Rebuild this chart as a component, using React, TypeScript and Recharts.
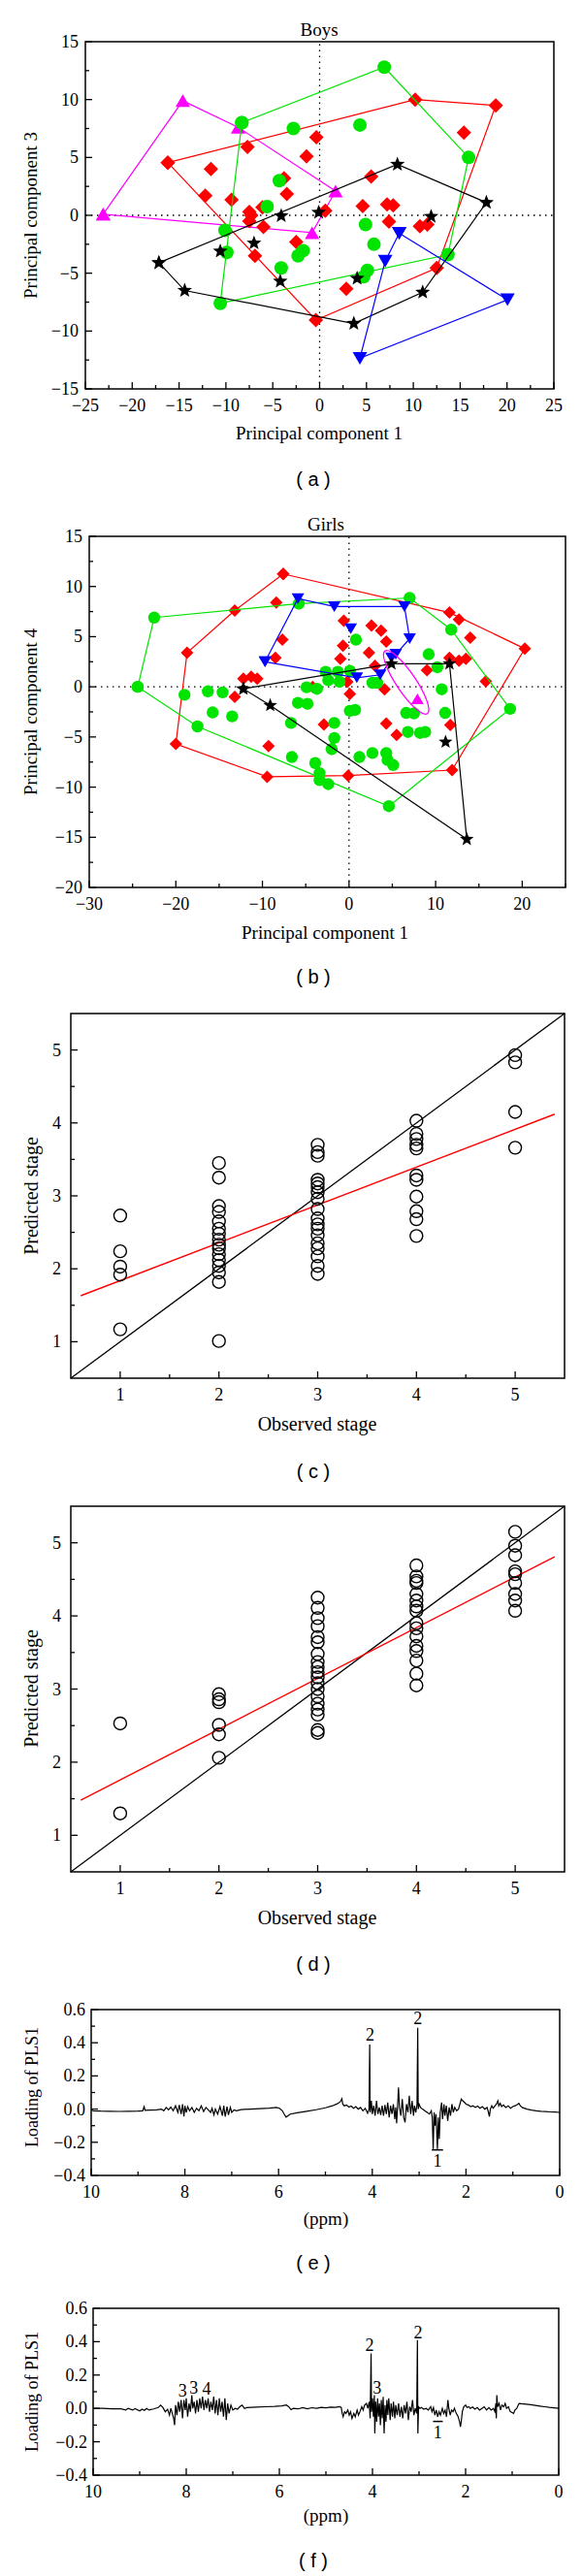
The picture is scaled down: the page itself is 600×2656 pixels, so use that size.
import React from 'react';
import { ScatterChart, Scatter, XAxis, YAxis, ReferenceLine, ReferenceArea } from 'recharts';

// ---------------- DATA ----------------
// Panel (a) Boys: PC1 vs PC3
const A_MAGENTA_HULL = [[-23.1, 0.1], [-14.6, 9.9], [-8.7, 7.6], [1.7, 2.1], [-0.8, -1.5]];
const A_RED_HULL = [[-16.2, 4.55], [10.2, 10.0], [18.8, 9.5], [12.5, -4.55], [-0.4, -9.05]];
const A_RED_IN = [[15.4, 7.15], [-0.35, 6.75], [-7.7, 5.9], [-1.4, 5.1], [-11.6, 4.0], [-3.8, 3.2], [5.5, 3.35], [-12.2, 1.7], [-9.4, 1.35], [-3.5, 1.85], [-7.5, 0.3], [-7.3, 0.0], [-7.5, -0.5], [-6.1, 0.7], [-6.0, -1.0], [0.6, 0.4], [4.6, 0.8], [7.2, 0.95], [7.85, 0.85], [7.4, -0.55], [10.7, -0.95], [11.5, -0.8], [-2.5, -2.3], [-6.9, -3.5], [2.85, -6.35]];
const A_GREEN_HULL = [[-8.3, 8.0], [6.9, 12.8], [15.9, 5.0], [13.7, -3.4], [-10.6, -7.6]];
const A_GREEN_IN = [[4.3, 7.8], [-2.8, 7.5], [-4.3, 3.0], [-5.6, 0.75], [-10.1, -1.3], [-9.9, -3.2], [-4.1, -4.55], [-1.75, -3.05], [-2.3, -3.5], [4.9, -0.8], [5.8, -2.5], [5.1, -4.75], [4.7, -5.3]];
const A_BLACK_HULL = [[-17.15, -4.1], [8.3, 4.4], [17.8, 1.1], [11.0, -6.65], [3.65, -9.35], [-14.4, -6.5]];
const A_BLACK_IN = [[-4.1, -0.05], [-0.1, 0.25], [11.9, -0.1], [-10.6, -3.1], [-7.0, -2.4], [-4.2, -5.7], [4.0, -5.45]];
const A_BLUE_HULL = [[8.5, -1.55], [20.05, -7.3], [4.3, -12.35], [7.0, -3.95]];

// Panel (b) Girls: PC1 vs PC4
const B_GREEN_HULL = [[-24.4, 0.0], [-22.5, 6.9], [-5.8, 8.3], [7.0, 8.86], [11.8, 5.7], [18.6, -2.2], [4.6, -11.9], [-17.5, -3.95]];
const B_GREEN_IN = [[-19.0, -0.8], [-16.3, -0.45], [-14.6, -0.55], [-15.75, -2.55], [-13.5, -2.95], [-6.7, -3.6], [-5.9, -1.6], [-4.8, -1.7], [-4.9, -0.05], [-3.7, -0.2], [-2.7, 1.5], [-2.4, 0.65], [-1.3, 1.5], [-1.1, 0.5], [0.1, 1.6], [0.8, 4.7], [0.1, -2.4], [0.7, -2.3], [-1.7, -3.6], [-1.7, -5.1], [-2.0, -6.2], [-6.6, -7.0], [-3.9, -7.6], [-3.4, -8.6], [-3.4, -9.3], [-2.4, -9.7], [1.2, -7.0], [2.7, -6.6], [4.3, -6.6], [4.45, -7.3], [5.1, -7.8], [2.7, 0.4], [3.25, 0.4], [6.6, -2.6], [7.5, -2.65], [6.8, -4.5], [8.2, -4.6], [8.8, -4.5], [9.2, 3.25], [10.2, 1.95], [10.7, -0.25], [11.1, -2.6]];
const B_RED_HULL = [[-7.6, 11.25], [11.6, 7.4], [20.3, 3.8], [11.9, -8.3], [-0.1, -8.85], [-9.45, -8.97], [-20.0, -5.7], [-18.7, 3.4], [-13.2, 7.6]];
const B_RED_IN = [[-8.4, 8.4], [-7.7, 4.7], [-8.5, 2.9], [-0.6, 6.6], [-0.7, 4.1], [-1.0, 2.8], [-0.2, 0.5], [0.1, -0.7], [2.6, 6.1], [3.7, 5.6], [4.3, 4.5], [2.3, 3.4], [3.0, 2.1], [4.1, -0.25], [9.0, 1.65], [11.6, 2.9], [12.7, 2.6], [13.5, 2.8], [14.0, 4.9], [12.7, 6.7], [15.8, 0.55], [11.7, -3.8], [4.3, -3.65], [5.5, -4.8], [-2.9, -3.75], [-2.0, -6.2], [-9.3, -5.9], [-13.2, -1.0], [-12.2, 0.8], [-11.3, 1.0], [-10.6, 0.8], [-4.2, 0.0]];
const B_BLUE_HULL = [[-9.7, 2.5], [-5.9, 8.8], [-1.7, 8.0], [6.4, 8.0], [7.0, 4.8], [5.4, 3.25], [3.6, 1.2], [0.9, 0.9]];
const B_BLUE_IN = [[0.2, 5.8], [4.9, 2.9]];
const B_BLACK_HULL = [[-12.2, -0.2], [4.9, 2.3], [11.6, 2.3], [13.6, -15.2], [-9.1, -1.85]];
const B_BLACK_IN = [[11.15, -5.5]];
const B_MAGENTA = [[7.9, -1.2]];
const B_ELLIPSE_CENTER = [[6.6, 0.45]];

// Panel (c): observed vs predicted stage
const C_S1 = [2.73, 2.24, 2.03, 1.92, 1.17];
const C_S2 = [3.45, 3.25, 2.86, 2.78, 2.65, 2.55, 2.48, 2.40, 2.33, 2.28, 2.20, 2.12, 2.04, 1.95, 1.82, 1.01];
const C_S3 = [3.70, 3.60, 3.55, 3.22, 3.17, 3.12, 3.05, 2.96, 2.82, 2.69, 2.61, 2.55, 2.46, 2.35, 2.28, 2.17, 2.04, 1.93];
const C_S4 = [4.03, 3.85, 3.78, 3.70, 3.65, 3.28, 3.22, 2.99, 2.79, 2.68, 2.45];
const C_S5 = [4.93, 4.83, 4.15, 3.66];
const C_FIT = [[0.6, 1.63], [5.4, 4.12]];

// Panel (d)
const D_S1 = [2.53, 1.30];
const D_S2 = [2.93, 2.86, 2.82, 2.51, 2.38, 2.06];
const D_S3 = [4.25, 4.11, 3.97, 3.86, 3.71, 3.64, 3.48, 3.37, 3.30, 3.23, 3.16, 3.08, 3.00, 2.90, 2.80, 2.72, 2.65, 2.44, 2.40];
const D_S4 = [4.69, 4.54, 4.48, 4.45, 4.30, 4.21, 4.13, 4.07, 3.90, 3.83, 3.72, 3.59, 3.52, 3.39, 3.21, 3.05];
const D_S5 = [5.15, 4.96, 4.83, 4.61, 4.57, 4.45, 4.30, 4.21, 4.07];
const D_FIT = [[0.6, 1.48], [5.4, 4.81]];
const IDENTITY = [[0.5, 0.5], [5.5, 5.5]];

// Panel (e) loading spectrum [ppm, loading]
const E_SPEC = [[10.0, -0.005], [9.95, -0.01], [9.8, -0.012], [9.6, -0.013], [9.4, -0.014], [9.2, -0.013], [9.0, -0.012], [8.9, -0.01], [8.87, 0.015], [8.85, -0.008], [8.75, -0.006], [8.6, -0.004], [8.5, 0.0], [8.45, -0.01], [8.4, 0.01], [8.35, -0.005], [8.3, 0.012], [8.25, -0.01], [8.2, 0.02], [8.15, -0.02], [8.12, 0.025], [8.08, -0.03], [8.05, 0.03], [8.02, -0.045], [8.0, 0.02], [7.97, -0.02], [7.94, 0.015], [7.9, -0.01], [7.85, 0.01], [7.8, -0.02], [7.75, 0.005], [7.7, -0.01], [7.65, 0.02], [7.6, -0.015], [7.55, 0.01], [7.5, -0.005], [7.45, -0.02], [7.42, 0.005], [7.38, -0.035], [7.35, 0.0], [7.3, -0.03], [7.25, 0.015], [7.2, -0.04], [7.17, 0.02], [7.14, -0.045], [7.1, 0.015], [7.07, -0.035], [7.03, 0.01], [7.0, -0.02], [6.95, -0.005], [6.9, -0.01], [6.8, -0.003], [6.6, 0.0], [6.4, 0.003], [6.2, 0.006], [6.05, 0.01], [5.98, 0.005], [5.92, -0.01], [5.88, -0.03], [5.84, -0.048], [5.8, -0.04], [5.75, -0.03], [5.6, -0.022], [5.4, -0.013], [5.2, -0.004], [5.0, 0.008], [4.85, 0.02], [4.75, 0.032], [4.68, 0.045], [4.65, 0.062], [4.63, 0.03], [4.6, 0.02], [4.55, 0.025], [4.5, 0.012], [4.45, 0.018], [4.4, 0.005], [4.35, 0.015], [4.3, 0.0], [4.25, 0.01], [4.2, -0.01], [4.15, 0.005], [4.1, -0.025], [4.07, 0.0], [4.055, 0.39], [4.045, -0.02], [4.02, 0.05], [4.0, -0.03], [3.97, 0.02], [3.94, -0.04], [3.91, 0.05], [3.88, -0.03], [3.85, 0.01], [3.82, -0.035], [3.79, 0.02], [3.76, -0.04], [3.73, 0.025], [3.7, -0.03], [3.67, 0.04], [3.64, -0.05], [3.61, 0.02], [3.58, -0.03], [3.55, 0.03], [3.52, -0.06], [3.5, 0.01], [3.48, -0.085], [3.46, 0.02], [3.44, 0.13], [3.42, 0.01], [3.39, -0.04], [3.36, 0.06], [3.33, -0.05], [3.3, -0.08], [3.27, 0.03], [3.24, -0.02], [3.21, 0.08], [3.18, -0.03], [3.15, 0.05], [3.12, -0.04], [3.1, 0.02], [3.07, -0.02], [3.045, 0.03], [3.03, 0.49], [3.02, 0.0], [3.0, 0.03], [2.97, 0.01], [2.93, 0.0], [2.88, -0.01], [2.83, -0.02], [2.78, -0.03], [2.74, -0.01], [2.72, -0.05], [2.7, -0.24], [2.68, -0.02], [2.66, -0.1], [2.64, -0.03], [2.61, -0.24], [2.59, -0.05], [2.57, -0.18], [2.55, -0.02], [2.52, 0.04], [2.5, -0.06], [2.47, 0.03], [2.45, -0.04], [2.42, 0.02], [2.39, -0.07], [2.36, 0.01], [2.33, -0.04], [2.3, 0.03], [2.27, -0.02], [2.24, 0.01], [2.2, -0.01], [2.16, 0.0], [2.12, 0.04], [2.1, 0.06], [2.07, 0.05], [2.03, 0.04], [2.0, 0.03], [1.95, 0.025], [1.9, 0.015], [1.85, 0.02], [1.8, 0.01], [1.75, 0.018], [1.7, 0.005], [1.65, 0.015], [1.6, 0.0], [1.55, 0.01], [1.52, -0.02], [1.5, -0.045], [1.48, 0.0], [1.45, 0.02], [1.42, 0.005], [1.38, 0.02], [1.35, 0.03], [1.32, 0.05], [1.3, 0.02], [1.27, 0.035], [1.24, 0.015], [1.2, 0.025], [1.15, 0.01], [1.1, 0.02], [1.05, 0.005], [1.0, 0.015], [0.95, 0.02], [0.9, 0.028], [0.87, 0.035], [0.84, 0.02], [0.8, 0.01], [0.7, 0.0], [0.6, -0.006], [0.5, -0.01], [0.4, -0.013], [0.3, -0.015], [0.2, -0.017], [0.1, -0.018], [0.0, -0.02]];
const E_LABELS = [{ x: 4.05, y: 0.45, t: '2' }, { x: 3.03, y: 0.545, t: '2' }, { x: 2.61, y: -0.31, t: '1' }];
const E_BAR = [[2.73, -0.246], [2.49, -0.246]];

// Panel (f)
const F_SPEC = [[10.0, 0.0], [9.8, 0.0], [9.6, -0.002], [9.4, -0.003], [9.3, -0.01], [9.25, 0.0], [9.15, -0.01], [9.1, -0.002], [9.0, -0.015], [8.95, -0.005], [8.9, -0.012], [8.85, 0.0], [8.8, -0.01], [8.7, -0.003], [8.6, 0.005], [8.55, 0.02], [8.5, 0.005], [8.45, -0.02], [8.4, -0.005], [8.36, -0.04], [8.33, 0.0], [8.3, -0.03], [8.27, -0.06], [8.25, -0.1], [8.23, 0.02], [8.2, -0.04], [8.17, 0.04], [8.14, -0.02], [8.11, 0.05], [8.08, -0.06], [8.05, 0.05], [8.02, -0.01], [8.0, 0.06], [7.97, -0.05], [7.94, 0.03], [7.91, -0.02], [7.88, 0.08], [7.86, 0.0], [7.83, 0.04], [7.8, -0.03], [7.77, 0.05], [7.74, -0.02], [7.71, 0.06], [7.68, 0.0], [7.65, 0.07], [7.62, -0.01], [7.59, 0.05], [7.56, 0.0], [7.53, 0.06], [7.5, -0.02], [7.47, 0.04], [7.44, -0.01], [7.41, 0.07], [7.38, -0.03], [7.35, 0.05], [7.32, -0.04], [7.29, 0.06], [7.26, -0.02], [7.23, 0.04], [7.2, -0.05], [7.17, 0.06], [7.14, -0.07], [7.11, 0.03], [7.08, -0.03], [7.04, 0.02], [7.0, -0.01], [6.95, 0.0], [6.9, -0.005], [6.85, 0.01], [6.8, 0.02], [6.75, 0.0], [6.7, 0.005], [6.5, 0.008], [6.3, 0.01], [6.1, 0.012], [5.95, 0.015], [5.85, 0.02], [5.8, 0.01], [5.75, -0.008], [5.7, 0.0], [5.6, -0.003], [5.5, 0.005], [5.4, -0.002], [5.3, 0.004], [5.2, 0.0], [5.1, 0.006], [5.0, 0.003], [4.9, 0.008], [4.8, 0.006], [4.7, 0.01], [4.67, 0.005], [4.65, -0.03], [4.63, -0.05], [4.6, -0.02], [4.57, -0.03], [4.53, -0.01], [4.5, -0.04], [4.47, -0.02], [4.44, -0.06], [4.4, -0.03], [4.37, -0.05], [4.33, -0.01], [4.3, -0.04], [4.27, -0.02], [4.23, 0.01], [4.2, -0.01], [4.17, 0.02], [4.13, 0.03], [4.1, 0.0], [4.07, 0.04], [4.05, -0.06], [4.03, 0.33], [4.02, -0.02], [4.0, 0.06], [3.98, -0.05], [3.96, 0.08], [3.95, -0.15], [3.93, 0.04], [3.91, -0.08], [3.89, 0.06], [3.87, -0.05], [3.85, 0.03], [3.83, -0.1], [3.81, 0.05], [3.79, -0.06], [3.77, 0.07], [3.75, -0.15], [3.73, 0.02], [3.71, -0.08], [3.69, 0.05], [3.67, -0.04], [3.65, 0.06], [3.62, -0.07], [3.6, 0.03], [3.57, -0.05], [3.55, 0.04], [3.52, -0.06], [3.5, 0.02], [3.47, -0.04], [3.44, 0.03], [3.41, -0.05], [3.38, 0.01], [3.35, -0.06], [3.32, 0.02], [3.29, -0.03], [3.26, 0.04], [3.23, -0.07], [3.2, 0.01], [3.17, -0.02], [3.14, 0.05], [3.11, -0.04], [3.08, 0.0], [3.05, -0.03], [3.035, 0.41], [3.025, -0.15], [3.01, 0.01], [2.98, 0.0], [2.95, 0.005], [2.9, -0.005], [2.85, 0.0], [2.8, -0.01], [2.75, 0.01], [2.72, -0.02], [2.69, 0.005], [2.66, -0.04], [2.63, -0.01], [2.6, -0.05], [2.57, -0.02], [2.54, -0.04], [2.5, 0.0], [2.47, -0.03], [2.44, -0.01], [2.41, -0.05], [2.38, 0.05], [2.36, 0.0], [2.33, -0.04], [2.3, -0.01], [2.27, -0.02], [2.24, 0.0], [2.2, -0.03], [2.16, -0.05], [2.13, -0.08], [2.11, -0.11], [2.09, -0.07], [2.07, -0.02], [2.04, 0.01], [2.0, 0.02], [1.97, 0.005], [1.93, 0.01], [1.9, 0.0], [1.85, 0.008], [1.8, -0.005], [1.75, 0.005], [1.7, -0.01], [1.65, 0.0], [1.6, 0.01], [1.55, -0.01], [1.5, 0.005], [1.45, -0.01], [1.4, 0.0], [1.37, -0.02], [1.35, 0.03], [1.34, -0.06], [1.33, 0.08], [1.31, 0.01], [1.28, 0.03], [1.25, -0.01], [1.22, 0.02], [1.18, 0.01], [1.15, 0.03], [1.12, 0.0], [1.08, 0.01], [1.04, -0.02], [1.0, -0.025], [0.97, -0.03], [0.94, -0.01], [0.9, 0.0], [0.87, 0.02], [0.85, 0.03], [0.8, 0.028], [0.7, 0.025], [0.6, 0.022], [0.5, 0.018], [0.4, 0.014], [0.3, 0.01], [0.2, 0.006], [0.1, 0.003], [0.0, 0.0]];
const F_LABELS = [{ x: 8.08, y: 0.107, t: '3' }, { x: 7.84, y: 0.126, t: '3' }, { x: 7.56, y: 0.117, t: '4' }, { x: 4.06, y: 0.38, t: '2' }, { x: 3.9, y: 0.126, t: '3' }, { x: 3.02, y: 0.456, t: '2' }, { x: 2.6, y: -0.145, t: '1' }];
const F_BAR = [[2.7, -0.078], [2.49, -0.078]];

// Ticks
const A_X_TICKS = [-25, -22.5, -20, -17.5, -15, -12.5, -10, -7.5, -5, -2.5, 0, 2.5, 5, 7.5, 10, 12.5, 15, 17.5, 20, 22.5, 25];
const A_X_MAJOR = [-25, -20, -15, -10, -5, 0, 5, 10, 15, 20, 25];
const A_Y_TICKS = [-15, -12.5, -10, -7.5, -5, -2.5, 0, 2.5, 5, 7.5, 10, 12.5, 15];
const A_Y_MAJOR = [-15, -10, -5, 0, 5, 10, 15];
const B_X_TICKS = [-30, -25, -20, -15, -10, -5, 0, 5, 10, 15, 20, 25];
const B_X_MAJOR = [-30, -20, -10, 0, 10, 20];
const B_Y_TICKS = [-20, -17.5, -15, -12.5, -10, -7.5, -5, -2.5, 0, 2.5, 5, 7.5, 10, 12.5, 15];
const B_Y_MAJOR = [-20, -15, -10, -5, 0, 5, 10, 15];
const S_TICKS = [1, 1.5, 2, 2.5, 3, 3.5, 4, 4.5, 5];
const S_Y_TICKS = [1, 1.5, 2, 2.5, 3, 3.5, 4, 4.5, 5];
const S_MAJOR = [1, 2, 3, 4, 5];
const P_X_TICKS = [10, 9, 8, 7, 6, 5, 4, 3, 2, 1, 0];
const P_X_MAJOR = [10, 8, 6, 4, 2, 0];
const P_Y_TICKS = [-0.4, -0.3, -0.2, -0.1, 0, 0.1, 0.2, 0.3, 0.4, 0.5, 0.6];
const P_Y_MAJOR = [-0.4, -0.2, 0, 0.2, 0.4, 0.6];

// ---------------- HELPERS ----------------
const SERIF = '"Liberation Serif", "Times New Roman", serif';
const SANS = '"Liberation Sans", Arial, sans-serif';
const RED = '#ff0000';
const GREEN = '#00e400';
const BLUE = '#0000ff';
const MAGENTA = '#ff00ff';
const BLACK = '#000000';

type Pt = { x: number; y: number; t?: string };
const pts = (arr: number[][]): Pt[] => arr.map(([x, y]) => ({ x, y }));
const closed = (arr: number[][]): Pt[] => pts([...arr, arr[0]]);
const stagePts = (stage: number, vals: number[]): Pt[] => vals.map((v) => ({ x: stage, y: v }));

const minus = (s: string) => s.replace('-', '\u2212');
const fmtInt = (v: number) => minus(String(v));
const fmt1 = (v: number) => minus(v.toFixed(1));

function mkTick(axis: 'x' | 'y', majors: number[], fmt: (v: number) => string, fs: number, gap: number) {
  const isMajor = (v: number) => majors.some((m) => Math.abs(m - v) < 1e-6);
  return (props: any) => {
    const { x, y, payload } = props;
    const v = Number(payload.value);
    const maj = isMajor(v);
    const len = maj ? 7 : 4;
    if (axis === 'x') {
      return (
        <g>
          <line x1={x} y1={y} x2={x} y2={y - len} stroke="#000" strokeWidth={1.3} />
          {maj ? (
            <text x={x} y={y + gap} textAnchor="middle" dominantBaseline="central" fontFamily={SERIF} fontSize={fs} fill="#000">
              {fmt(v)}
            </text>
          ) : null}
        </g>
      );
    }
    return (
      <g>
        <line x1={x} y1={y} x2={x + len} y2={y} stroke="#000" strokeWidth={1.3} />
        {maj ? (
          <text x={x - gap} y={y} textAnchor="end" dominantBaseline="central" fontFamily={SERIF} fontSize={fs} fill="#000">
            {fmt(v)}
          </text>
        ) : null}
      </g>
    );
  };
}

const diamond = (color: string, h: number) => (p: any) => (
  <path d={`M${p.cx},${p.cy - h}L${p.cx + h},${p.cy}L${p.cx},${p.cy + h}L${p.cx - h},${p.cy}Z`} fill={color} />
);
const dot = (color: string, r: number) => (p: any) => <circle cx={p.cx} cy={p.cy} r={r} fill={color} />;
const ring = (r: number) => (p: any) => <circle cx={p.cx} cy={p.cy} r={r} fill="none" stroke="#000" strokeWidth={1.4} />;
const triUp = (color: string, w: number, h: number) => (p: any) => (
  <path d={`M${p.cx},${p.cy - h}L${p.cx + w},${p.cy + h}L${p.cx - w},${p.cy + h}Z`} fill={color} />
);
const triDown = (color: string, w: number, h: number) => (p: any) => (
  <path d={`M${p.cx - w},${p.cy - h}L${p.cx + w},${p.cy - h}L${p.cx},${p.cy + h}Z`} fill={color} />
);
const star = (color: string, R: number, r: number) => (p: any) => {
  let d = '';
  for (let i = 0; i < 10; i++) {
    const rad = i % 2 === 0 ? R : r;
    const a = -Math.PI / 2 + (i * Math.PI) / 5;
    d += (i ? 'L' : 'M') + (p.cx + rad * Math.cos(a)).toFixed(2) + ',' + (p.cy + rad * Math.sin(a)).toFixed(2);
  }
  return <path d={d + 'Z'} fill={color} />;
};
const none = () => <g />;
const ellipseShape = (p: any) => (
  <ellipse cx={p.cx} cy={p.cy} rx={39} ry={10} transform={`rotate(56 ${p.cx} ${p.cy})`} fill="none" stroke={MAGENTA} strokeWidth={1.3} />
);
const textShape = (p: any) => (
  <text x={p.cx} y={p.cy} textAnchor="middle" dominantBaseline="central" fontFamily={SERIF} fontSize={18} fill="#000">
    {p.payload && p.payload.t}
  </text>
);

const lineStyle = (c: string) => ({ stroke: c, strokeWidth: 1.2 });

type FrameProps = {
  top: number;
  height: number;
  plot: [number, number, number, number];
  xDomain: [number, number];
  yDomain: [number, number];
  xTicks: number[];
  xMajor: number[];
  yTicks: number[];
  yMajor: number[];
  xFmt: (v: number) => string;
  yFmt: (v: number) => string;
  yGap: number;
  reversed?: boolean;
  children: React.ReactNode;
};

function Frame(props: FrameProps) {
  const { top, height, plot, xDomain, yDomain, xTicks, xMajor, yTicks, yMajor, xFmt, yFmt, yGap, reversed, children } = props;
  const [pl, pt, pr, pb] = plot;
  const xh = 20;
  const yw = 40;
  const margin = { top: pt - top, bottom: top + height - pb - xh, left: pl - yw, right: 600 - pr };
  return (
    <div style={{ position: 'absolute', left: 0, top, width: 600, height }}>
      <ScatterChart width={600} height={height} margin={margin}>
        <XAxis
          type="number"
          dataKey="x"
          domain={xDomain}
          ticks={xTicks}
          interval={0}
          reversed={reversed}
          tick={mkTick('x', xMajor, xFmt, 18, 17)}
          tickLine={false}
          axisLine={false}
          tickSize={0}
          tickMargin={0}
          height={xh}
          allowDataOverflow
        />
        <YAxis
          type="number"
          dataKey="y"
          domain={yDomain}
          ticks={yTicks}
          interval={0}
          tick={mkTick('y', yMajor, yFmt, 18, yGap)}
          tickLine={false}
          axisLine={false}
          tickSize={0}
          tickMargin={0}
          width={yw}
          allowDataOverflow
        />
        <ReferenceArea x1={xDomain[0]} x2={xDomain[1]} y1={yDomain[0]} y2={yDomain[1]} fill="none" stroke="#000" strokeWidth={1.5} />
        {children}
      </ScatterChart>
    </div>
  );
}

function Txt({ x, y, children, size = 19, font = SERIF, rotate = false }: { x: number; y: number; children: React.ReactNode; size?: number; font?: string; rotate?: boolean }) {
  return (
    <div
      style={{
        position: 'absolute',
        left: x,
        top: y,
        transform: `translate(-50%, -50%)${rotate ? ' rotate(-90deg)' : ''}`,
        fontFamily: font,
        fontSize: size,
        lineHeight: 1,
        whiteSpace: 'nowrap',
        color: '#000',
      }}
    >
      {children}
    </div>
  );
}

export default function App() {
  return (
    <div style={{ position: 'absolute', left: 0, top: 0, width: 600, height: 2656, background: '#fff', overflow: 'hidden' }}>
      {/* (a) */}
      <Frame top={0} height={450} plot={[88, 43, 571, 401]} xDomain={[-25, 25]} yDomain={[-15, 15]} xTicks={A_X_TICKS} xMajor={A_X_MAJOR} yTicks={A_Y_TICKS} yMajor={A_Y_MAJOR} xFmt={fmtInt} yFmt={fmtInt} yGap={7}>
        <ReferenceLine x={0} stroke="#000" strokeWidth={1.3} strokeDasharray="1.5 4.5" />
        <ReferenceLine y={0} stroke="#000" strokeWidth={1.3} strokeDasharray="1.5 4.5" />
        <Scatter data={closed(A_MAGENTA_HULL)} line={lineStyle(MAGENTA)} shape={triUp(MAGENTA, 7.5, 6.5)} isAnimationActive={false} />
        <Scatter data={closed(A_RED_HULL)} line={lineStyle(RED)} shape={diamond(RED, 7.5)} isAnimationActive={false} />
        <Scatter data={pts(A_RED_IN)} shape={diamond(RED, 7.5)} isAnimationActive={false} />
        <Scatter data={closed(A_GREEN_HULL)} line={lineStyle(GREEN)} shape={dot(GREEN, 7)} isAnimationActive={false} />
        <Scatter data={pts(A_GREEN_IN)} shape={dot(GREEN, 7)} isAnimationActive={false} />
        <Scatter data={closed(A_BLACK_HULL)} line={lineStyle(BLACK)} shape={star(BLACK, 8, 3.4)} isAnimationActive={false} />
        <Scatter data={pts(A_BLACK_IN)} shape={star(BLACK, 8, 3.4)} isAnimationActive={false} />
        <Scatter data={closed(A_BLUE_HULL)} line={lineStyle(BLUE)} shape={triDown(BLUE, 7.5, 6.5)} isAnimationActive={false} />
      </Frame>
      <Txt x={329} y={30}>Boys</Txt>
      <Txt x={329} y={446}>Principal component 1</Txt>
      <Txt x={31} y={222} rotate>Principal component 3</Txt>
      <Txt x={323} y={494} size={20} font={SANS}>( a )</Txt>

      {/* (b) */}
      <Frame top={450} height={550} plot={[92, 553, 583, 915]} xDomain={[-30, 25]} yDomain={[-20, 15]} xTicks={B_X_TICKS} xMajor={B_X_MAJOR} yTicks={B_Y_TICKS} yMajor={B_Y_MAJOR} xFmt={fmtInt} yFmt={fmtInt} yGap={7}>
        <ReferenceLine x={0} stroke="#000" strokeWidth={1.3} strokeDasharray="1.5 4.5" />
        <ReferenceLine y={0} stroke="#000" strokeWidth={1.3} strokeDasharray="1.5 4.5" />
        <Scatter data={closed(B_RED_HULL)} line={lineStyle(RED)} shape={diamond(RED, 6.5)} isAnimationActive={false} />
        <Scatter data={pts(B_RED_IN)} shape={diamond(RED, 6.5)} isAnimationActive={false} />
        <Scatter data={closed(B_GREEN_HULL)} line={lineStyle(GREEN)} shape={dot(GREEN, 6.2)} isAnimationActive={false} />
        <Scatter data={pts(B_GREEN_IN)} shape={dot(GREEN, 6.2)} isAnimationActive={false} />
        <Scatter data={closed(B_BLUE_HULL)} line={lineStyle(BLUE)} shape={triDown(BLUE, 6.5, 5.5)} isAnimationActive={false} />
        <Scatter data={pts(B_BLUE_IN)} shape={triDown(BLUE, 6.5, 5.5)} isAnimationActive={false} />
        <Scatter data={closed(B_BLACK_HULL)} line={lineStyle(BLACK)} shape={star(BLACK, 7.5, 3.2)} isAnimationActive={false} />
        <Scatter data={pts(B_BLACK_IN)} shape={star(BLACK, 7.5, 3.2)} isAnimationActive={false} />
        <Scatter data={pts(B_MAGENTA)} shape={triUp(MAGENTA, 6.5, 5.5)} isAnimationActive={false} />
        <Scatter data={pts(B_ELLIPSE_CENTER)} shape={ellipseShape} isAnimationActive={false} />
      </Frame>
      <Txt x={336} y={540}>Girls</Txt>
      <Txt x={335} y={961}>Principal component 1</Txt>
      <Txt x={31} y={734} rotate>Principal component 4</Txt>
      <Txt x={323} y={1007} size={20} font={SANS}>( b )</Txt>

      {/* (c) */}
      <Frame top={1000} height={530} plot={[73, 1045, 582, 1421]} xDomain={[0.5, 5.5]} yDomain={[0.5, 5.5]} xTicks={S_TICKS} xMajor={S_MAJOR} yTicks={S_Y_TICKS} yMajor={S_MAJOR} xFmt={fmtInt} yFmt={fmtInt} yGap={10}>
        <ReferenceLine segment={[{ x: IDENTITY[0][0], y: IDENTITY[0][1] }, { x: IDENTITY[1][0], y: IDENTITY[1][1] }]} stroke="#000" strokeWidth={1.3} ifOverflow="visible" />
        <ReferenceLine segment={[{ x: C_FIT[0][0], y: C_FIT[0][1] }, { x: C_FIT[1][0], y: C_FIT[1][1] }]} stroke={RED} strokeWidth={1.4} ifOverflow="visible" />
        <Scatter data={stagePts(1, C_S1)} shape={ring(6.5)} isAnimationActive={false} />
        <Scatter data={stagePts(2, C_S2)} shape={ring(6.5)} isAnimationActive={false} />
        <Scatter data={stagePts(3, C_S3)} shape={ring(6.5)} isAnimationActive={false} />
        <Scatter data={stagePts(4, C_S4)} shape={ring(6.5)} isAnimationActive={false} />
        <Scatter data={stagePts(5, C_S5)} shape={ring(6.5)} isAnimationActive={false} />
      </Frame>
      <Txt x={327} y={1468} size={20}>Observed stage</Txt>
      <Txt x={32} y={1233} rotate size={20}>Predicted stage</Txt>
      <Txt x={323} y={1517} size={20} font={SANS}>( c )</Txt>

      {/* (d) */}
      <Frame top={1530} height={520} plot={[73, 1553, 582, 1930]} xDomain={[0.5, 5.5]} yDomain={[0.5, 5.5]} xTicks={S_TICKS} xMajor={S_MAJOR} yTicks={S_Y_TICKS} yMajor={S_MAJOR} xFmt={fmtInt} yFmt={fmtInt} yGap={10}>
        <ReferenceLine segment={[{ x: IDENTITY[0][0], y: IDENTITY[0][1] }, { x: IDENTITY[1][0], y: IDENTITY[1][1] }]} stroke="#000" strokeWidth={1.3} ifOverflow="visible" />
        <ReferenceLine segment={[{ x: D_FIT[0][0], y: D_FIT[0][1] }, { x: D_FIT[1][0], y: D_FIT[1][1] }]} stroke={RED} strokeWidth={1.4} ifOverflow="visible" />
        <Scatter data={stagePts(1, D_S1)} shape={ring(6.5)} isAnimationActive={false} />
        <Scatter data={stagePts(2, D_S2)} shape={ring(6.5)} isAnimationActive={false} />
        <Scatter data={stagePts(3, D_S3)} shape={ring(6.5)} isAnimationActive={false} />
        <Scatter data={stagePts(4, D_S4)} shape={ring(6.5)} isAnimationActive={false} />
        <Scatter data={stagePts(5, D_S5)} shape={ring(6.5)} isAnimationActive={false} />
      </Frame>
      <Txt x={327} y={1977} size={20}>Observed stage</Txt>
      <Txt x={32} y={1741} rotate size={20}>Predicted stage</Txt>
      <Txt x={323} y={2025} size={20} font={SANS}>( d )</Txt>

      {/* (e) */}
      <Frame top={2050} height={300} plot={[94, 2072, 577, 2243]} xDomain={[0, 10]} yDomain={[-0.4, 0.6]} xTicks={P_X_TICKS} xMajor={P_X_MAJOR} yTicks={P_Y_TICKS} yMajor={P_Y_MAJOR} xFmt={fmtInt} yFmt={fmt1} yGap={6} reversed>
        <Scatter data={pts(E_SPEC)} line={{ stroke: '#000', strokeWidth: 1.2 }} shape={none} isAnimationActive={false} />
        <ReferenceLine segment={[{ x: E_BAR[0][0], y: E_BAR[0][1] }, { x: E_BAR[1][0], y: E_BAR[1][1] }]} stroke="#000" strokeWidth={1.5} />
        <Scatter data={E_LABELS} shape={textShape} isAnimationActive={false} />
      </Frame>
      <Txt x={336} y={2287}>(ppm)</Txt>
      <Txt x={33} y={2152} rotate size={18}>Loading of PLS1</Txt>
      <Txt x={323} y={2333} size={20} font={SANS}>( e )</Txt>

      {/* (f) */}
      <Frame top={2350} height={306} plot={[96, 2380, 576, 2552]} xDomain={[0, 10]} yDomain={[-0.4, 0.6]} xTicks={P_X_TICKS} xMajor={P_X_MAJOR} yTicks={P_Y_TICKS} yMajor={P_Y_MAJOR} xFmt={fmtInt} yFmt={fmt1} yGap={6} reversed>
        <Scatter data={pts(F_SPEC)} line={{ stroke: '#000', strokeWidth: 1.2 }} shape={none} isAnimationActive={false} />
        <ReferenceLine segment={[{ x: F_BAR[0][0], y: F_BAR[0][1] }, { x: F_BAR[1][0], y: F_BAR[1][1] }]} stroke="#000" strokeWidth={1.5} />
        <Scatter data={F_LABELS} shape={textShape} isAnimationActive={false} />
      </Frame>
      <Txt x={336} y={2593}>(ppm)</Txt>
      <Txt x={33} y={2466} rotate size={18}>Loading of PLS1</Txt>
      <Txt x={323} y={2640} size={20} font={SANS}>( f )</Txt>
    </div>
  );
}
